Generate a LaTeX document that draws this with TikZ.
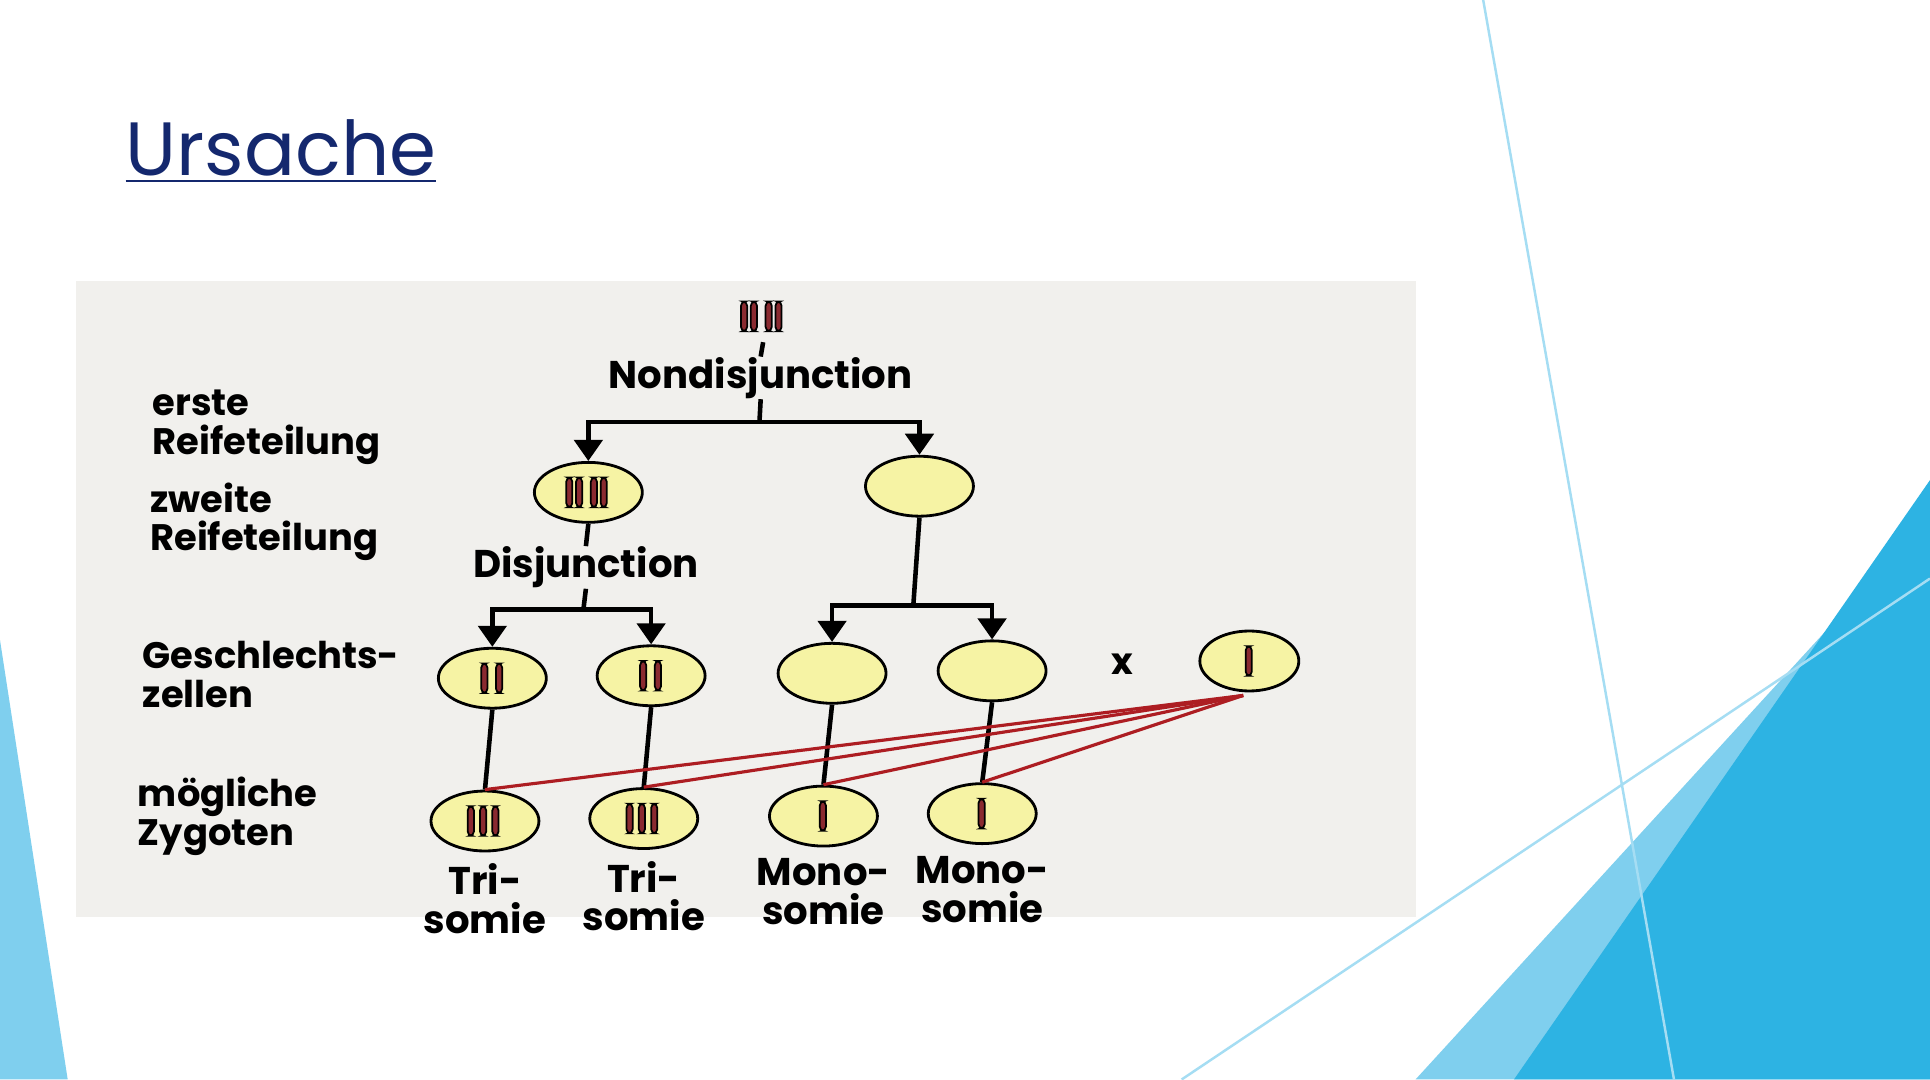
\documentclass[tikz,border=0pt]{standalone}
\usepackage{fontspec}
\setsansfont{Poppins}
\usetikzlibrary{arrows.meta,shapes.geometric,calc}
\definecolor{navy}{HTML}{14286E}
\definecolor{paper}{HTML}{F1F0ED}
\definecolor{cellfill}{HTML}{F6F3A4}
\definecolor{chrom}{HTML}{8A2A30}
\definecolor{skyA}{HTML}{2DB3E3}
\definecolor{skyB}{HTML}{7FCFEE}
\tikzset{
  cell/.style={draw=black, thick, fill=cellfill, ellipse, minimum width=1.08cm, minimum height=0.6cm, inner sep=0pt},
  lab/.style={font=\sffamily\bfseries\fontsize{10.5}{11}\selectfont, align=left, anchor=west},
  conn/.style={line width=1.3pt},
  arr/.style={line width=1.3pt, -{Triangle[length=6pt, width=8pt]}},
  cross/.style={draw=chrom!70!red, line width=0.9pt},
  chr/.style={draw=black, fill=chrom, rounded corners=1.2pt, line width=0.5pt}
}
% one rod chromosome
\newcommand{\rod}[2]{\filldraw[chr] ($(#1)+(#2,-12)$) rectangle ($(#1)+(#2+5,12)$);}
\begin{document}
\begin{tikzpicture}[x=0.01231cm, y=-0.01231cm]
    % Frame and background
    \useasboundingbox (0,0) rectangle (1568,877);
    \fill[white] (0,0) rectangle (1568,877);
    \fill[skyB] (0,520) -- (55,877) -- (0,877) -- cycle;
    \fill[skyB] (1150,877) -- (1568,420) -- (1568,877) -- cycle;
    \fill[skyA] (1230,877) -- (1568,390) -- (1568,877) -- cycle;
    \draw[skyB!70, line width=0.7pt] (1205,0) -- (1360,877);
    \draw[skyB!70, line width=0.7pt] (960,877) -- (1568,470);
    \node[anchor=west, text=navy, font=\sffamily\fontsize{21.5}{21}\selectfont] (title) at (92,123) {\underline{Ursache}};
    \fill[paper] (62,228) rectangle (1150,745);

    % Top chromosomes
    \coordinate (top) at (620,257);
    \foreach \dx in {-18,-10,2,10} \rod{top}{\dx};

    % Nondisjunction
    \node[font=\sffamily\bfseries\fontsize{11}{11}\selectfont, inner sep=0pt] (nd) at (618,307) {Nondisjunction};
    \draw[conn] (620,278) -- (nd.north);
    \coordinate (ndj) at (617,343);
    \draw[conn] (nd.south) -- (ndj);

    % Cells of the second division
    \node[cell] (cA) at (478,400) {};
    \node[cell] (cB) at (747,395) {};
    \foreach \dx in {-18,-10,2,10} \rod{cA}{\dx};
    \draw[arr] (ndj) -| (cA.north);
    \draw[arr] (ndj) -| (cB.north);

    % Disjunction
    \node[font=\sffamily\bfseries\fontsize{11}{11}\selectfont, inner sep=0pt] (dj) at (476,461) {Disjunction};
    \draw[conn] (cA.south) -- (dj.north);
    \coordinate (djj) at (474,495);
    \coordinate (bj) at (742,492);
    \draw[conn] (dj.south) -- (djj);
    \draw[conn] (cB.south) -- (bj);

    % Gametes
    \node[cell] (g1) at (400,551) {};
    \node[cell] (g2) at (529,549) {};
    \node[cell] (g3) at (676,547) {};
    \node[cell] (g4) at (806,545) {};
    \node[cell, minimum width=0.99cm] (sp) at (1015,537) {};
    \node[font=\sffamily\bfseries\fontsize{10.5}{11}\selectfont] (x) at (912,540) {x};
    \foreach \g in {g1,g2} {\rod{\g}{-9}; \rod{\g}{3};}
    \rod{sp}{-3};
    \draw[arr] (djj) -| (g1.north);
    \draw[arr] (djj) -| (g2.north);
    \draw[arr] (bj) -| (g3.north);
    \draw[arr] (bj) -| (g4.north);

    % Zygotes
    \node[cell] (z1) at (394,667) {};
    \node[cell] (z2) at (523,665) {};
    \node[cell] (z3) at (669,663) {};
    \node[cell] (z4) at (798,661) {};
    \foreach \z in {z1,z2} {\rod{\z}{-14}; \rod{\z}{-4}; \rod{\z}{6};}
    \foreach \z in {z3,z4} \rod{\z}{-3};
    \foreach \g/\z in {g1/z1,g2/z2,g3/z3,g4/z4} \draw[conn] (\g.south) -- (\z.north);
    \coordinate (spo) at (1010,565);
    \foreach \z in {z1,z2,z3,z4} \draw[cross] (spo) -- (\z.north);

    % Zygote names
    \foreach \z/\t in {z1/Tri-\\somie,z2/Tri-\\somie,z3/Mono-\\somie,z4/Mono-\\somie}
        \node[font=\sffamily\bfseries\fontsize{11}{11}\selectfont, align=center, anchor=north, inner sep=0pt] at ([yshift=-3]\z.south) {\t};

    % Stage labels
    \node[lab] (l1) at (114,347) {erste\\Reifeteilung};
    \node[lab] (l2) at (112,424) {zweite\\Reifeteilung};
    \node[lab] (l3) at (106,548) {Geschlechts-\\zellen};
    \node[lab] (l4) at (102,663) {mögliche\\Zygoten};
\end{tikzpicture}
\end{document}
